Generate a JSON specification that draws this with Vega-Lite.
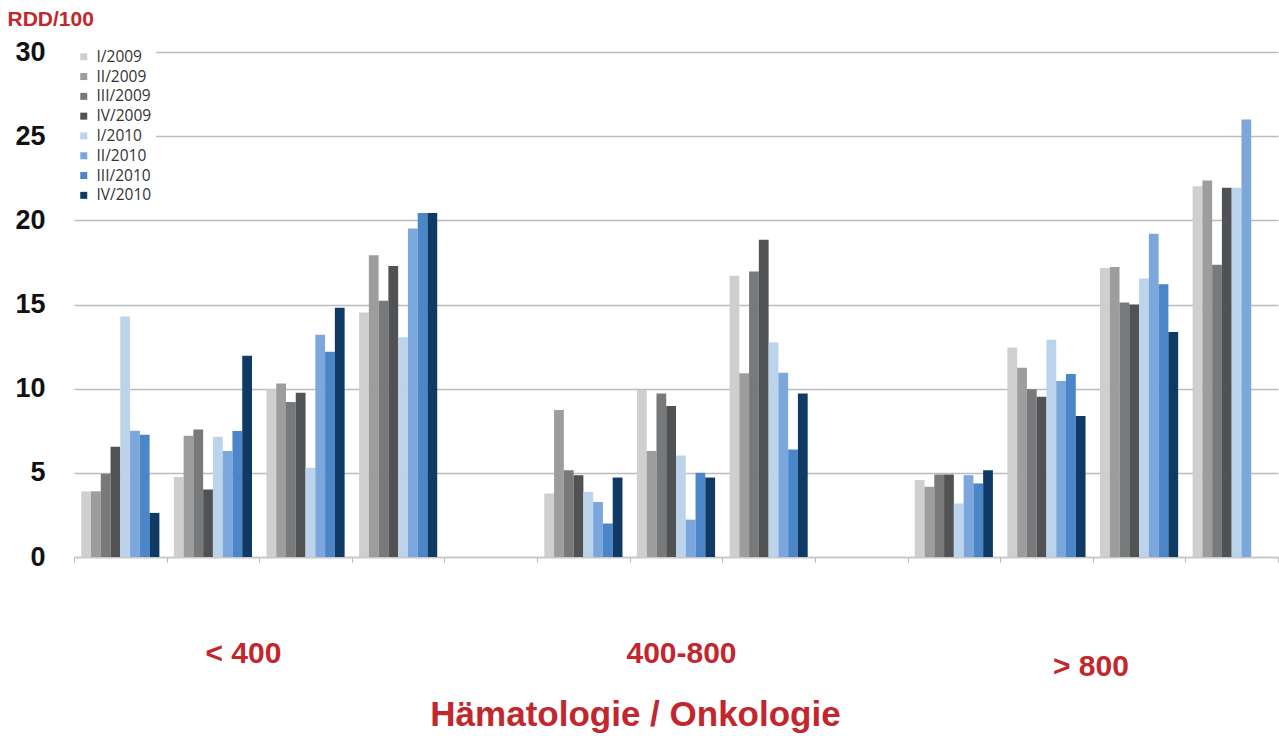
{
  "$schema": "https://vega.github.io/schema/vega-lite/v6.json",
  "width": 1204,
  "height": 505,
  "autosize": {"type": "none"},
  "padding": {"left": 74, "top": 52, "right": 1, "bottom": 179},
  "background": "white",
  "data": {
    "values": [
      {"slot": "1", "quarter": "I/2009", "value": 3.9},
      {"slot": "1", "quarter": "II/2009", "value": 3.9},
      {"slot": "1", "quarter": "III/2009", "value": 4.94},
      {"slot": "1", "quarter": "IV/2009", "value": 6.55},
      {"slot": "1", "quarter": "I/2010", "value": 14.29},
      {"slot": "1", "quarter": "II/2010", "value": 7.5},
      {"slot": "1", "quarter": "III/2010", "value": 7.26},
      {"slot": "1", "quarter": "IV/2010", "value": 2.62},
      {"slot": "2", "quarter": "I/2009", "value": 4.76},
      {"slot": "2", "quarter": "II/2009", "value": 7.2},
      {"slot": "2", "quarter": "III/2009", "value": 7.58},
      {"slot": "2", "quarter": "IV/2009", "value": 4.01},
      {"slot": "2", "quarter": "I/2010", "value": 7.14},
      {"slot": "2", "quarter": "II/2010", "value": 6.29},
      {"slot": "2", "quarter": "III/2010", "value": 7.48},
      {"slot": "2", "quarter": "IV/2010", "value": 11.96},
      {"slot": "3", "quarter": "I/2009", "value": 9.96},
      {"slot": "3", "quarter": "II/2009", "value": 10.3},
      {"slot": "3", "quarter": "III/2009", "value": 9.21},
      {"slot": "3", "quarter": "IV/2009", "value": 9.76},
      {"slot": "3", "quarter": "I/2010", "value": 5.3},
      {"slot": "3", "quarter": "II/2010", "value": 13.2},
      {"slot": "3", "quarter": "III/2010", "value": 12.19},
      {"slot": "3", "quarter": "IV/2010", "value": 14.8},
      {"slot": "4", "quarter": "I/2009", "value": 14.52},
      {"slot": "4", "quarter": "II/2009", "value": 17.92},
      {"slot": "4", "quarter": "III/2009", "value": 15.22},
      {"slot": "4", "quarter": "IV/2009", "value": 17.28},
      {"slot": "4", "quarter": "I/2010", "value": 13.06},
      {"slot": "4", "quarter": "II/2010", "value": 19.52},
      {"slot": "4", "quarter": "III/2010", "value": 20.44},
      {"slot": "4", "quarter": "IV/2010", "value": 20.44},
      {"slot": "6", "quarter": "I/2009", "value": 3.77},
      {"slot": "6", "quarter": "II/2009", "value": 8.73},
      {"slot": "6", "quarter": "III/2009", "value": 5.16},
      {"slot": "6", "quarter": "IV/2009", "value": 4.86},
      {"slot": "6", "quarter": "I/2010", "value": 3.87},
      {"slot": "6", "quarter": "II/2010", "value": 3.27},
      {"slot": "6", "quarter": "III/2010", "value": 1.99},
      {"slot": "6", "quarter": "IV/2010", "value": 4.72},
      {"slot": "7", "quarter": "I/2009", "value": 9.92},
      {"slot": "7", "quarter": "II/2009", "value": 6.29},
      {"slot": "7", "quarter": "III/2009", "value": 9.72},
      {"slot": "7", "quarter": "IV/2009", "value": 8.97},
      {"slot": "7", "quarter": "I/2010", "value": 6.03},
      {"slot": "7", "quarter": "II/2010", "value": 2.22},
      {"slot": "7", "quarter": "III/2010", "value": 5.0},
      {"slot": "7", "quarter": "IV/2010", "value": 4.72},
      {"slot": "8", "quarter": "I/2009", "value": 16.71},
      {"slot": "8", "quarter": "II/2009", "value": 10.91},
      {"slot": "8", "quarter": "III/2009", "value": 16.96},
      {"slot": "8", "quarter": "IV/2009", "value": 18.85},
      {"slot": "8", "quarter": "I/2010", "value": 12.74},
      {"slot": "8", "quarter": "II/2010", "value": 10.95},
      {"slot": "8", "quarter": "III/2010", "value": 6.39},
      {"slot": "8", "quarter": "IV/2010", "value": 9.72},
      {"slot": "10", "quarter": "I/2009", "value": 4.57},
      {"slot": "10", "quarter": "II/2009", "value": 4.17},
      {"slot": "10", "quarter": "III/2009", "value": 4.9},
      {"slot": "10", "quarter": "IV/2009", "value": 4.9},
      {"slot": "10", "quarter": "I/2010", "value": 3.18},
      {"slot": "10", "quarter": "II/2010", "value": 4.86},
      {"slot": "10", "quarter": "III/2010", "value": 4.37},
      {"slot": "10", "quarter": "IV/2010", "value": 5.16},
      {"slot": "11", "quarter": "I/2009", "value": 12.44},
      {"slot": "11", "quarter": "II/2009", "value": 11.25},
      {"slot": "11", "quarter": "III/2009", "value": 9.96},
      {"slot": "11", "quarter": "IV/2009", "value": 9.52},
      {"slot": "11", "quarter": "I/2010", "value": 12.9},
      {"slot": "11", "quarter": "II/2010", "value": 10.46},
      {"slot": "11", "quarter": "III/2010", "value": 10.87},
      {"slot": "11", "quarter": "IV/2010", "value": 8.37},
      {"slot": "12", "quarter": "I/2009", "value": 17.17},
      {"slot": "12", "quarter": "II/2009", "value": 17.23},
      {"slot": "12", "quarter": "III/2009", "value": 15.12},
      {"slot": "12", "quarter": "IV/2009", "value": 15.0},
      {"slot": "12", "quarter": "I/2010", "value": 16.55},
      {"slot": "12", "quarter": "II/2010", "value": 19.21},
      {"slot": "12", "quarter": "III/2010", "value": 16.21},
      {"slot": "12", "quarter": "IV/2010", "value": 13.37},
      {"slot": "13", "quarter": "I/2009", "value": 22.02},
      {"slot": "13", "quarter": "II/2009", "value": 22.36},
      {"slot": "13", "quarter": "III/2009", "value": 17.36},
      {"slot": "13", "quarter": "IV/2009", "value": 21.93},
      {"slot": "13", "quarter": "I/2010", "value": 21.93},
      {"slot": "13", "quarter": "II/2010", "value": 25.99}
    ]
  },
  "mark": {"type": "bar"},
  "encoding": {
    "x": {
      "field": "slot",
      "type": "ordinal",
      "scale": {
        "domain": ["1", "2", "3", "4", "5", "6", "7", "8", "9", "10", "11", "12", "13"],
        "paddingInner": 0,
        "paddingOuter": 0
      },
      "axis": {
        "title": "Hämatologie / Onkologie",
        "titleFont": "Liberation Sans",
        "titleFontSize": 35,
        "titleFontWeight": "bold",
        "titleColor": "#c1272d",
        "titleX": 561,
        "titleY": 168,
        "titleAlign": "center",
        "titleBaseline": "alphabetic",
        "titleAnchor": "start",
        "grid": false,
        "domainColor": "#c8c8c8",
        "domainWidth": 1.5,
        "tickColor": "#b4b4b4",
        "tickSize": 5,
        "tickBand": "extent",
        "labelAngle": 0,
        "labelOverlap": false,
        "labelFont": "Liberation Sans",
        "labelFontSize": 30,
        "labelFontWeight": "bold",
        "labelColor": "#c1272d",
        "labelBaseline": "alphabetic",
        "labelExpr": "datum.value == '2' ? '< 400' : datum.value == '7' ? '400-800' : datum.value == '11' ? '> 800' : ''",
        "labelOffset": {
          "condition": [
            {"test": "datum.value == '2'", "value": 30},
            {"test": "datum.value == '7'", "value": 5},
            {"test": "datum.value == '11'", "value": 44}
          ],
          "value": 0
        },
        "labelPadding": {
          "condition": {"test": "datum.value == '11'", "value": 113},
          "value": 100
        }
      }
    },
    "xOffset": {
      "field": "quarter",
      "type": "nominal",
      "scale": {
        "domain": ["I/2009", "II/2009", "III/2009", "IV/2009", "I/2010", "II/2010", "III/2010", "IV/2010"],
        "paddingInner": 0,
        "paddingOuter": 0.74
      }
    },
    "y": {
      "field": "value",
      "type": "quantitative",
      "scale": {"domain": [0, 30], "nice": false},
      "axis": {
        "values": [0, 5, 10, 15, 20, 25, 30],
        "title": "RDD/100",
        "titleAngle": 0,
        "titleFont": "Liberation Sans",
        "titleFontSize": 21,
        "titleFontWeight": "bold",
        "titleColor": "#c1272d",
        "titleX": -67,
        "titleY": -27,
        "titleAlign": "left",
        "titleBaseline": "alphabetic",
        "domain": false,
        "ticks": false,
        "labelFont": "Liberation Sans",
        "labelFontSize": 27,
        "labelFontWeight": "bold",
        "labelColor": "#111111",
        "labelPadding": 29,
        "gridColor": "#bcbcbc",
        "gridWidth": 1.5
      }
    },
    "color": {
      "field": "quarter",
      "type": "nominal",
      "scale": {
        "domain": ["I/2009", "II/2009", "III/2009", "IV/2009", "I/2010", "II/2010", "III/2010", "IV/2010"],
        "range": ["#cfcfcf", "#9d9d9d", "#77797b", "#505254", "#bcd3ec", "#7ba7dd", "#4a86c8", "#0f3a66"]
      },
      "legend": {
        "title": null,
        "orient": "none",
        "legendX": -2,
        "legendY": -7,
        "padding": 4,
        "fillColor": "white",
        "symbolType": "square",
        "symbolSize": 49,
        "symbolStrokeWidth": 0,
        "labelFont": "Open Sans",
        "labelFontSize": 15.5,
        "labelColor": "#333333",
        "labelOffset": 5,
        "rowPadding": 2.8
      }
    }
  },
  "config": {
    "view": {"stroke": null}
  }
}
